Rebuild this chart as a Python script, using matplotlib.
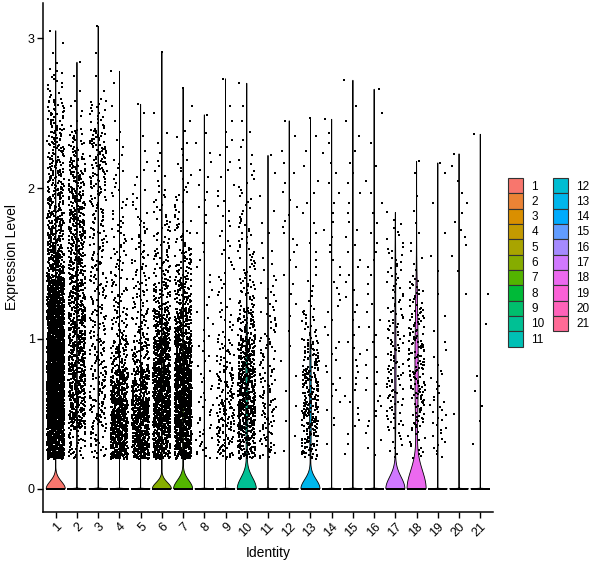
import numpy as np
import matplotlib
matplotlib.use('Agg')
import matplotlib.pyplot as plt
from matplotlib.patches import Patch

plt.rcParams['font.family'] = ['Liberation Sans', 'DejaVu Sans']

# cluster identities
identities = [str(i) for i in range(1, 22)]

# number of cells with zero expression per cluster (estimated)
zero_counts = [8380, 4000, 1600, 3200, 2800, 3030, 2890, 300, 900, 1374, 500,
               150, 700, 200, 200, 200, 373, 345, 200, 100, 50]

# highest expression value per cluster (top of each violin)
max_level = [3.05, 2.84, 3.08, 2.78, 2.56, 2.91, 2.67, 2.49, 2.73, 2.70, 2.22,
             2.45, 2.47, 2.46, 2.72, 2.66, 1.84, 2.18, 2.17, 2.23, 2.36]

# non-zero cells counted in 0.2-wide expression bins starting at 0.2
bin_edges = [0.2, 0.4, 0.6, 0.8, 1.0, 1.2, 1.4, 1.6, 1.8, 2.0, 2.2, 2.4,
             2.6, 2.8, 3.0, 3.2]
bin_counts = [
    [350, 650, 700, 600, 450, 320, 150, 110, 80, 60, 50, 40, 15, 3],
    [40, 130, 140, 130, 110, 100, 95, 90, 85, 65, 30, 6, 2],
    [25, 45, 40, 35, 30, 30, 28, 28, 30, 40, 45, 20, 2, 1],
    [250, 280, 160, 70, 35, 25, 20, 15, 10, 8, 4, 2, 1],
    [230, 250, 140, 65, 32, 25, 20, 15, 8, 4, 2, 1],
    [200, 280, 260, 200, 110, 55, 32, 20, 12, 6, 3, 1],
    [230, 310, 290, 230, 140, 75, 40, 20, 12, 8, 5, 2],
    [15, 12, 8, 6, 5, 4, 4, 3, 4, 4, 3],
    [50, 60, 45, 25, 12, 8, 8, 6, 6, 4, 4, 2],
    [110, 180, 170, 125, 65, 30, 20, 15, 10, 8, 4, 2],
    [25, 30, 25, 20, 15, 10, 5, 3, 2, 1],
    [2, 2, 2, 2, 2, 3, 4, 5, 4, 3, 2],
    [60, 80, 70, 50, 20, 6, 4, 3, 3, 2, 2],
    [1, 4, 5, 5, 4, 5, 4, 4, 3, 3, 3],
    [3, 5, 5, 5, 4, 4, 4, 4, 3, 3, 2, 2],
    [4, 6, 5, 4, 4, 3, 4, 3, 3, 2, 1, 1],
    [10, 20, 25, 25, 20, 15, 15, 8],
    [15, 30, 40, 40, 30, 20, 5, 3, 2, 1],
    [10, 12, 8, 4, 2, 1, 2, 1, 1, 1],
    [0, 1, 0, 0, 0, 1, 2, 4, 3, 2],
    [1, 2, 2, 0, 1, 1],
]


def hue_pal(n, c=100, l=65):
    """ggplot2 default discrete palette (polar Luv -> sRGB)."""
    hues = np.linspace(15, 375, n + 1)[:n]
    xn, yn, zn = 95.047, 100.0, 108.883
    un = 4 * xn / (xn + 15 * yn + 3 * zn)
    vn = 9 * yn / (xn + 15 * yn + 3 * zn)
    out = []
    for h in hues:
        u = c * np.cos(np.radians(h))
        v = c * np.sin(np.radians(h))
        y = yn * ((l + 16) / 116) ** 3
        up = u / (13 * l) + un
        vp = v / (13 * l) + vn
        x = 9 * y * up / (4 * vp)
        z = -x / 3 - 5 * y + 3 * y / vp
        x, y, z = x / 100, y / 100, z / 100
        rgb = np.array([3.240479 * x - 1.537150 * y - 0.498535 * z,
                        -0.969256 * x + 1.875992 * y + 0.041556 * z,
                        0.055648 * x - 0.204043 * y + 1.057311 * z])
        rgb = np.where(rgb <= 0.0031308, 12.92 * rgb,
                       1.055 * np.abs(rgb) ** (1 / 2.4) - 0.055)
        out.append(np.clip(rgb, 0, 1))
    return out


def bw_nrd0(x):
    hi = x.std(ddof=1)
    q25, q75 = np.percentile(x, [25, 75])
    lo = min(hi, (q75 - q25) / 1.34)
    if lo == 0:
        # Seurat adds tiny noise, so a zero IQR gives a near-zero bandwidth
        lo = 1e-5
    return 0.9 * lo * len(x) ** -0.2


def expand_values(k):
    vals = [np.zeros(zero_counts[k])]
    for i, n in enumerate(bin_counts[k]):
        if n == 0:
            continue
        lo, hi = bin_edges[i], bin_edges[i + 1]
        vals.append(lo + (np.arange(n) + 0.5) / n * (hi - lo))
    vals.append([max_level[k]])
    return np.concatenate(vals)


colors = hue_pal(len(identities))
rng = np.random.default_rng(7)

fig = plt.figure(figsize=(6.0, 5.68), dpi=100)
ax = fig.add_axes([43 / 600, 56 / 568, 450 / 600, 509 / 568])

for k, name in enumerate(identities):
    pos = k + 1
    data = expand_values(k)
    data = data[data <= max_level[k]]
    bw = bw_nrd0(data)
    grid = np.linspace(data.min(), data.max(), 512)
    uniq, cnt = np.unique(data, return_counts=True)
    dens = (cnt[None, :] * np.exp(-0.5 * ((grid[:, None] - uniq[None, :]) / bw) ** 2)).sum(axis=1)
    half = 0.45 * dens / dens.max()
    px = np.concatenate([pos - half, (pos + half)[::-1]])
    py = np.concatenate([grid, grid[::-1]])
    ax.fill(px, py, facecolor=colors[k], edgecolor='black', linewidth=0.6,
            zorder=2)

    jit = rng.uniform(-0.4, 0.4, len(data))
    ax.scatter(pos + jit, data, s=2.0, c='black', marker='s', linewidths=0,
               zorder=3)

ax.set_xlim(0.4, 21.6)
ax.set_ylim(-0.154, 3.234)
ax.set_xticks(range(1, 22))
ax.set_xticklabels(identities, rotation=45, ha='right', va='top',
                   rotation_mode='anchor', fontsize=9)
ax.set_yticks([0, 1, 2, 3])
ax.set_yticklabels(['0', '1', '2', '3'], fontsize=9)
ax.tick_params(axis='both', length=4, width=1, colors='black', pad=2)
for side in ['top', 'right']:
    ax.spines[side].set_visible(False)
for side in ['left', 'bottom']:
    ax.spines[side].set_linewidth(1.1)
ax.set_xlabel('Identity', fontsize=10, labelpad=5)
ax.set_ylabel('Expression Level', fontsize=10, labelpad=6)

handles = [Patch(facecolor=colors[k], edgecolor='#333333', linewidth=0.8,
                 label=identities[k]) for k in range(len(identities))]
fig.legend(handles=handles, ncol=2, loc='upper left',
           bbox_to_anchor=(508 / 600, 1 - 178 / 568), frameon=False,
           fontsize=8.5, handlelength=1.27, handleheight=1.62,
           labelspacing=0.0, handletextpad=0.7, columnspacing=0.7,
           borderpad=0, borderaxespad=0)

fig.savefig('out.png', dpi=100)
